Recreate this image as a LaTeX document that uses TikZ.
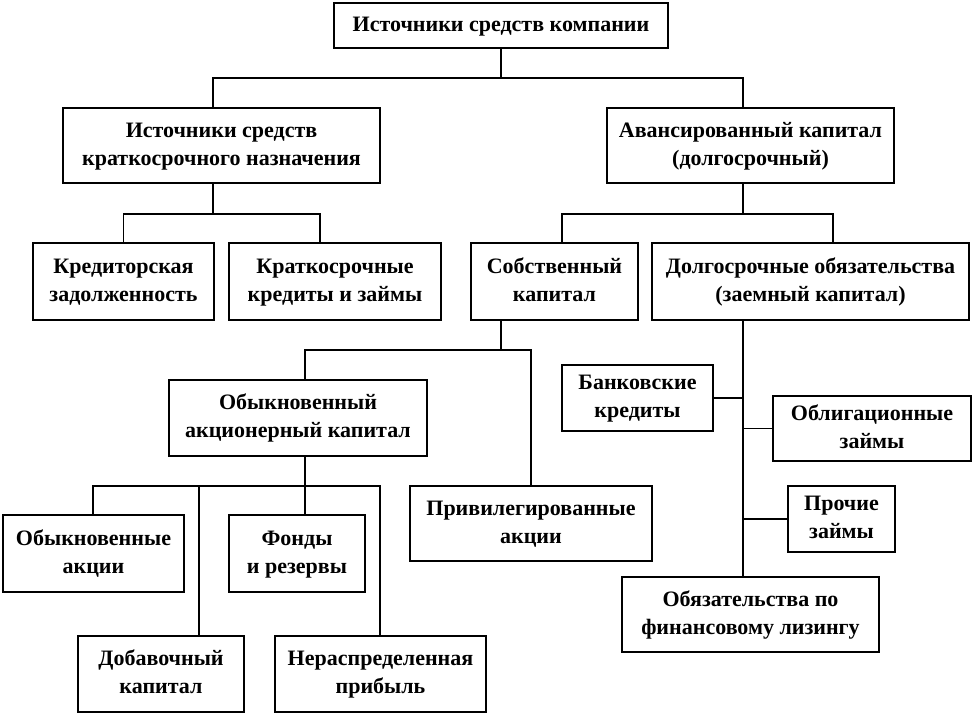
\documentclass[tikz,border=0pt]{standalone}
\usepackage{fontspec}
\setmainfont{Liberation Serif}
\usetikzlibrary{calc}
\tikzset{
  box/.style={draw, line width=1.6pt, align=center, inner sep=0pt,
    font=\fontsize{22}{28}\selectfont\bfseries},
  conn/.style={line width=1.6pt},
}
\newcommand{\bx}[6]{%
  \pgfmathsetmacro{\bw}{#4-#2}\pgfmathsetmacro{\bh}{#5-#3}%
  \pgfmathsetmacro{\bcx}{(#2+#4)/2}\pgfmathsetmacro{\bcy}{-(#3+#5)/2}%
  \node[box, minimum width=\bw pt, minimum height=\bh pt] (#1) at (\bcx pt,\bcy pt) {\strut #6\strut};}
\begin{document}
\begin{tikzpicture}[x=1pt,y=1pt]
\useasboundingbox (0,0) rectangle (975,-717);
\bx{top}{334}{3}{668}{48}{Источники средств компании}
\bx{ls}{63}{108}{380}{183}{Источники средств\\краткосрочного назначения}
\bx{av}{607}{108}{894}{183}{Авансированный капитал\\(долгосрочный)}
\bx{kz}{33}{243}{214}{320}{Кредиторская\\задолженность}
\bx{kk}{229}{243}{441}{320}{Краткосрочные\\кредиты и займы}
\bx{sk}{471}{243}{638}{320}{Собственный\\капитал}
\bx{do}{652}{243}{969}{320}{Долгосрочные обязательства\\(заемный капитал)}
\bx{oak}{169}{380}{427}{456}{Обыкновенный\\акционерный капитал}
\bx{pa}{410}{486}{652}{561}{Привилегированные\\акции}
\bx{oa}{3}{515}{184}{592}{Обыкновенные\\акции}
\bx{fr}{229}{515}{365}{592}{Фонды\\и резервы}
\bx{dk}{78}{636}{244}{712}{Добавочный\\капитал}
\bx{np}{275}{636}{486}{712}{Нераспределенная\\прибыль}
\bx{bk}{562}{365}{713}{431}{Банковские\\кредиты}
\bx{oz}{773}{396}{971}{461}{Облигационные\\займы}
\bx{pz}{788}{486}{895}{552}{Прочие\\займы}
\bx{fl}{622}{577}{879}{652}{Обязательства по\\финансовому лизингу}
% x positions of vertical lines
\coordinate (x93) at (93,0);
\coordinate (x199) at (199,0);
\coordinate (x213) at (213,0);
\coordinate (x305) at (305,0);
\coordinate (x320) at (320,0);
\coordinate (x380) at (380,0);
\coordinate (x501) at (501,0);
\coordinate (x531) at (531,0);
\coordinate (x562) at (562,0);
\coordinate (x743) at (743,0);
\coordinate (x833) at (833,0);
% level rails
\coordinate (r1) at (0,-78);
\coordinate (r2) at (0,-214);
\coordinate (r3) at (0,-350);
\coordinate (r4) at (0,-486);
% top
\draw[conn] (top.south) -- (top.south |- r1);
\draw[conn] (ls.north -| x213) -- (x213 |- r1) -- (x743 |- r1) -- (av.north -| x743);
% short-term
\draw[conn] (ls.south -| x213) -- (x213 |- r2);
\draw[conn] (kz.north) -- (kz.north |- r2) -- (x320 |- r2) -- (kk.north -| x320);
% long-term
\draw[conn] (av.south -| x743) -- (x743 |- r2);
\draw[conn] (sk.north -| x562) -- (x562 |- r2) -- (x833 |- r2) -- (do.north -| x833);
% equity
\draw[conn] (sk.south -| x501) -- (x501 |- r3);
\draw[conn] (oak.north -| x305) -- (x305 |- r3) -- (x531 |- r3) -- (pa.north -| x531);
% common equity
\draw[conn] (oak.south -| x305) -- (x305 |- r4);
\draw[conn] (oa.north -| x93) -- (x93 |- r4) -- (x380 |- r4) -- (np.north -| x380);
\draw[conn] (x199 |- r4) -- (dk.north -| x199);
\draw[conn] (x305 |- r4) -- (fr.north -| x305);
% liabilities
\draw[conn] (do.south -| x743) -- (fl.north -| x743);
\draw[conn] (bk.east) -- (bk.east -| x743);
\draw[conn] (oz.west) -- (oz.west -| x743);
\draw[conn] (pz.west) -- (pz.west -| x743);
\end{tikzpicture}
\end{document}
